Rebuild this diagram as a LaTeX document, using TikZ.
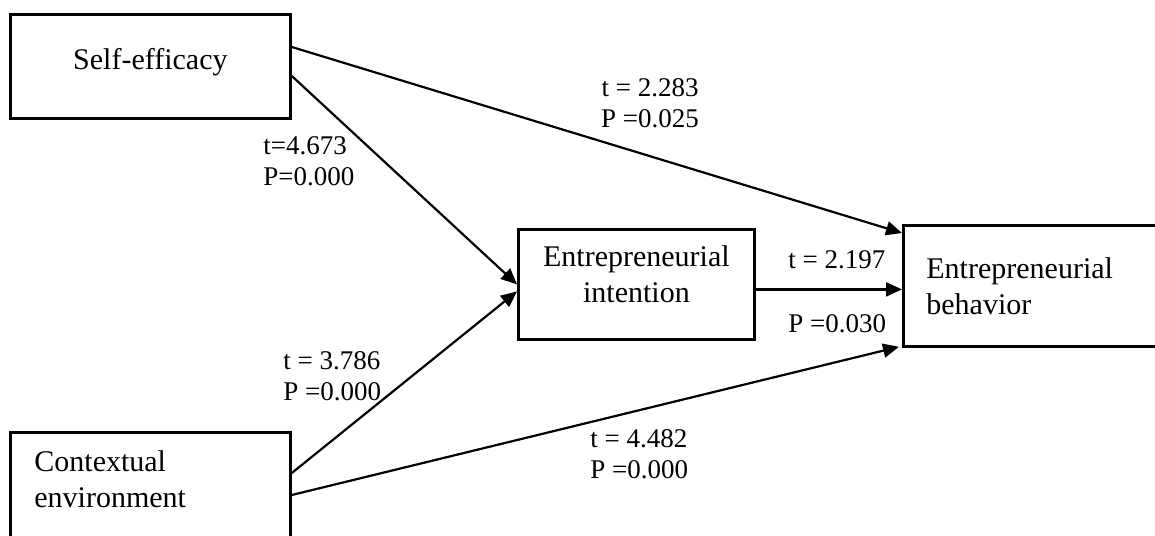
\documentclass[tikz,border=0pt]{standalone}
\usepackage{fontspec}
\setmainfont{Liberation Serif}
\usetikzlibrary{arrows.meta, positioning, calc}

\begin{document}
\begin{tikzpicture}[x=0.5pt,y=-0.5pt,>={Triangle[length=8pt,width=7pt]},
  box/.style={draw,line width=1.4pt,inner sep=0pt,font=\fontsize{15}{18}\selectfont},
  lbl/.style={inner sep=0pt,align=left,font=\fontsize{13.5}{15.5}\selectfont},
  link/.style={->,line width=1.1pt}]
\useasboundingbox (0,0) rectangle (1155,535);
\node[box,anchor=north west,minimum width=140pt,minimum height=52pt,text height=11pt,text depth=8pt] (self) at (9,13) {Self-efficacy};
\node[box,anchor=north west,inner xsep=12pt,text width=116pt,align=left,text height=19.5pt,text depth=40pt] (context) at (9,431) {Contextual\\environment};
\node[box,anchor=north west,text width=118pt,minimum height=55pt,align=center,text height=11pt,text depth=29pt] (intention) at (517,228) {Entrepreneurial\\intention};
\node[box,anchor=north west,inner xsep=11.5pt,text width=110pt,minimum height=60.5pt,align=left,text height=11pt,text depth=18.5pt] (behavior) at (902,224) {Entrepreneurial\\behavior};
\node[lbl,anchor=base,align=center] (selfbeh) at (650,127) {t = 2.283\\P =0.025};
\node[lbl,anchor=base west] (selfint) at (263,185) {t=4.673\\P=0.000};
\node[lbl,anchor=base west] (contint) at (283,400) {t = 3.786\\P =0.000};
\node[lbl,anchor=base west] (contbeh) at (590,478) {t = 4.482\\P =0.000};
\node[lbl,anchor=base west] (intbeht) at (788,268) {t = 2.197};
\node[lbl,anchor=base west] (intbehp) at (788,332) {P =0.030};
\draw[link] ($(self.north east)+(0,34)$) -- ($(behavior.north west)+(0,9)$);
\draw[link] ($(self.north east)+(0,63)$) -- (intention.west);
\draw[link] ($(context.north east)+(0,42)$) -- ($(intention.west)+(0,7)$);
\draw[link] ($(context.north east)+(0,64)$) -- ($(behavior.south west)+(-3,-1)$);
\draw[link] ($(intention.east)+(0,5)$) -- ($(intention.east -| behavior.west)+(0,5)$);
\end{tikzpicture}
\end{document}
